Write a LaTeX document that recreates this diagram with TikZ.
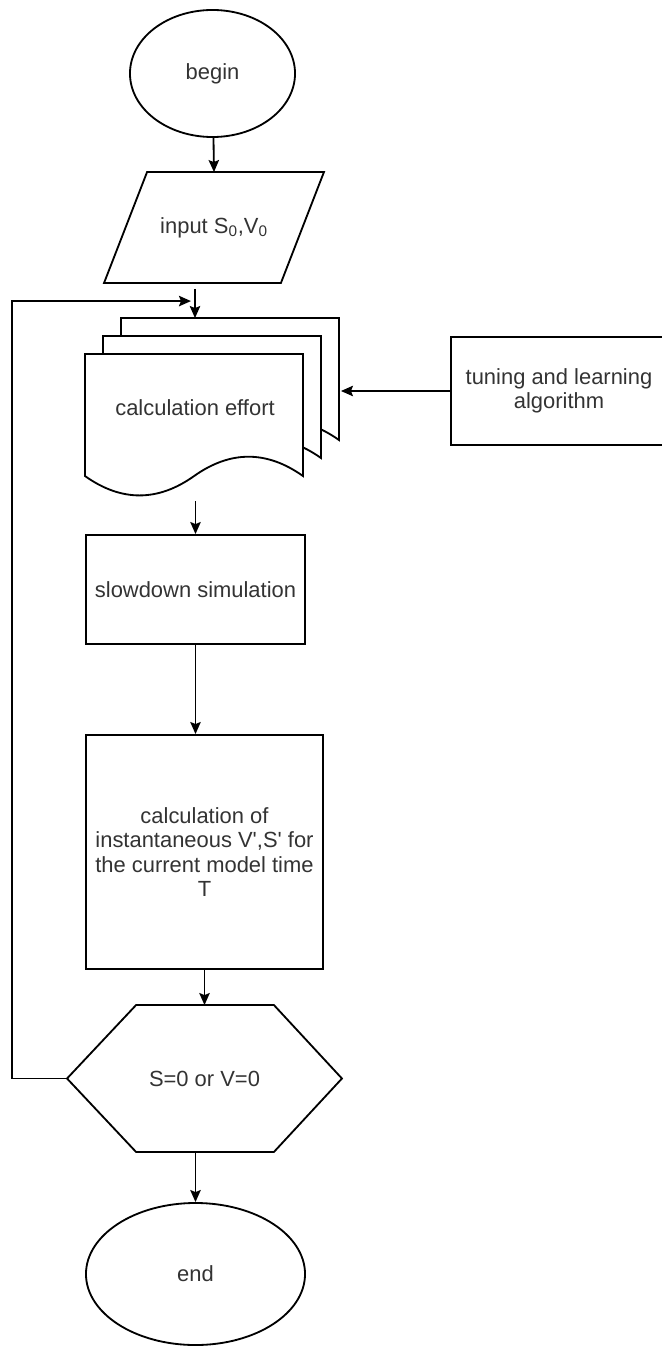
\documentclass[tikz,border=0pt]{standalone}
\usepackage{fontspec}
\setmainfont{Liberation Sans}
\usepackage{tikz}
\usetikzlibrary{arrows.meta,positioning,shapes.geometric,calc}

\begin{document}
\begin{tikzpicture}[
  x=0.025cm, y=-0.025cm,
  font=\fontsize{15.6}{17.5}\selectfont,
  line width=1.3pt,
  every node/.style={text=black!80, align=center, inner sep=0pt},
  term/.style={draw, ellipse, minimum width=4.125cm, minimum height=3.175cm},
  io/.style={minimum width=5.45cm, minimum height=2.725cm},
  doc/.style={minimum width=5.45cm, minimum height=3.5875cm},
  proc/.style={draw, rectangle, minimum width=5.475cm, minimum height=2.725cm},
  decision/.style={minimum width=6.825cm, minimum height=3.625cm},
  arr/.style={-{Stealth[length=0.3cm, width=0.26cm, inset=0.05cm]}}
]
  \useasboundingbox (0,0) rectangle (662,1346);

  % main column
  \node[term] (begin) at (212.5,73.5) {begin};
  \node[io] (input) at (214,227.5) {input S\textsubscript{0},V\textsubscript{0}};
  \node[doc] (effort) at (195,426.75) {};
  \node[proc, minimum width=5.4cm, minimum height=2.7cm] (tuning) at (559,391) {tuning and learning\\algorithm};
  \node[proc] (slow) at (195.5,589.5) {slowdown simulation};
  \node[proc, minimum width=5.925cm, minimum height=5.85cm] (calc) at (204.5,852)
    {calculation of\\instantaneous V\textquotesingle,S\textquotesingle{} for\\the current model time\\T};
  \node[decision] (check) at (204.5,1078.5) {S=0 or V=0};
  \node[term, minimum width=5.475cm, minimum height=3.55cm] (end) at (195.5,1274) {end};

  % parallelogram
  \draw ($(input.north west)+(43,0)$) -- (input.north east)
    -- ($(input.south east)+(-43,0)$) -- (input.south west) -- cycle;

  % stacked documents
  \foreach \s in {36,18,0}
    \draw[fill=white] ($(effort.north west)+(\s,-\s)$) -- ++(218,0) -- ++(0,122)
      .. controls +(-36.33,-25.8) and +(36.33,-25.8) .. ++(-109,0)
      .. controls +(-36.33,25.8) and +(36.33,25.8) .. ++(-109,0) -- cycle;
  \node (effortlbl) at ($(effort.center)+(0,-19)$) {calculation effort};
  \coordinate (back) at ($(effort.north east)+(36,-36)$);
  \coordinate (merge) at ($(back -| effort.north)+(-4,-17)$);

  % hexagon
  \draw ($(check.north west)+(69,0)$) -- ($(check.north east)+(-68,0)$) -- (check.east)
    -- ($(check.south east)+(-68,0)$) -- ($(check.south west)+(69,0)$) -- (check.west) -- cycle;

  \draw[arr] (begin) -- (input.north);
  \draw[arr] ([yshift=-0.15cm]input.south -| effort.north) -- (back -| effort.north);
  \draw[arr] (tuning.west) -- (tuning.west -| back);
  \draw[arr] ([yshift=-0.05cm]effort.south -| slow.north) -- (slow.north);
  \draw[arr] (slow.south) -- (calc.north -| slow.south);
  \draw[arr] (calc.south) -- (check.north);
  \draw[arr] (check.south -| end.north) -- (end.north);
  \draw[arr] (check.west) -- ++(-55,0) |- (merge);
\end{tikzpicture}
\end{document}
